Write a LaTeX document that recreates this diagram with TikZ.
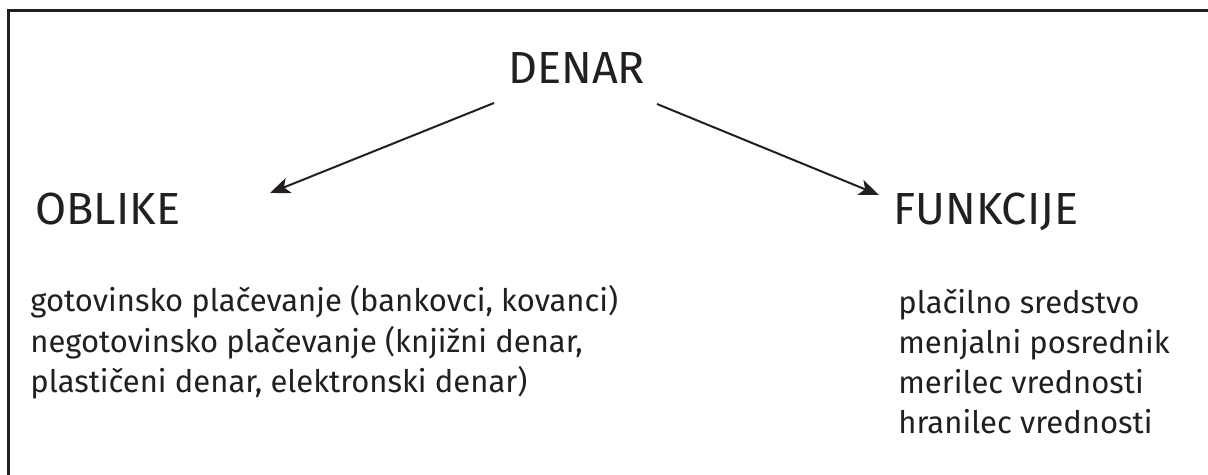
\documentclass[tikz,border=0pt]{standalone}
\usepackage{fontspec}
\setmainfont{Fira Sans}
\usetikzlibrary{arrows.meta}
\definecolor{ink}{HTML}{231F20}
\begin{document}
\begin{tikzpicture}[x=0.5pt,y=-0.5pt,
  title/.style={anchor=base west,inner sep=0pt,text=ink,font=\fontsize{22.5}{27}\selectfont},
  body/.style={anchor=base west,inner sep=0pt,text=ink,align=left,font=\fontsize{15.5}{20}\selectfont},
  conn/.style={draw=ink,line width=1pt,-{Stealth[length=10pt,width=8pt,inset=2.5pt]}},
  frame/.style={draw=ink,line width=1.5pt}]
\useasboundingbox (0,0) rectangle (1208,475);
\draw[frame] (8.5,475) -- (8.5,11) -- (1208,11);
\node[title] (denar) at (508,84) {DENAR};
\node[title] (oblike) at (35,225) {OBLIKE};
\node[title] (funkcije) at (893,225) {FUNKCIJE};
\node[body] (obl) at (30,392) {gotovinsko plačevanje (bankovci, kovanci)\\negotovinsko plačevanje (knjižni denar,\\plastičeni denar, elektronski denar)};
\node[body] (fun) at (898,433) {plačilno sredstvo\\menjalni posrednik\\merilec vrednosti\\hranilec vrednosti};
\coordinate (a1s) at (494,103);
\coordinate (a1e) at (270,193);
\coordinate (a2s) at (657,104);
\coordinate (a2e) at (879,195);
\draw[conn] (a1s) -- (a1e);
\draw[conn] (a2s) -- (a2e);
\end{tikzpicture}
\end{document}
